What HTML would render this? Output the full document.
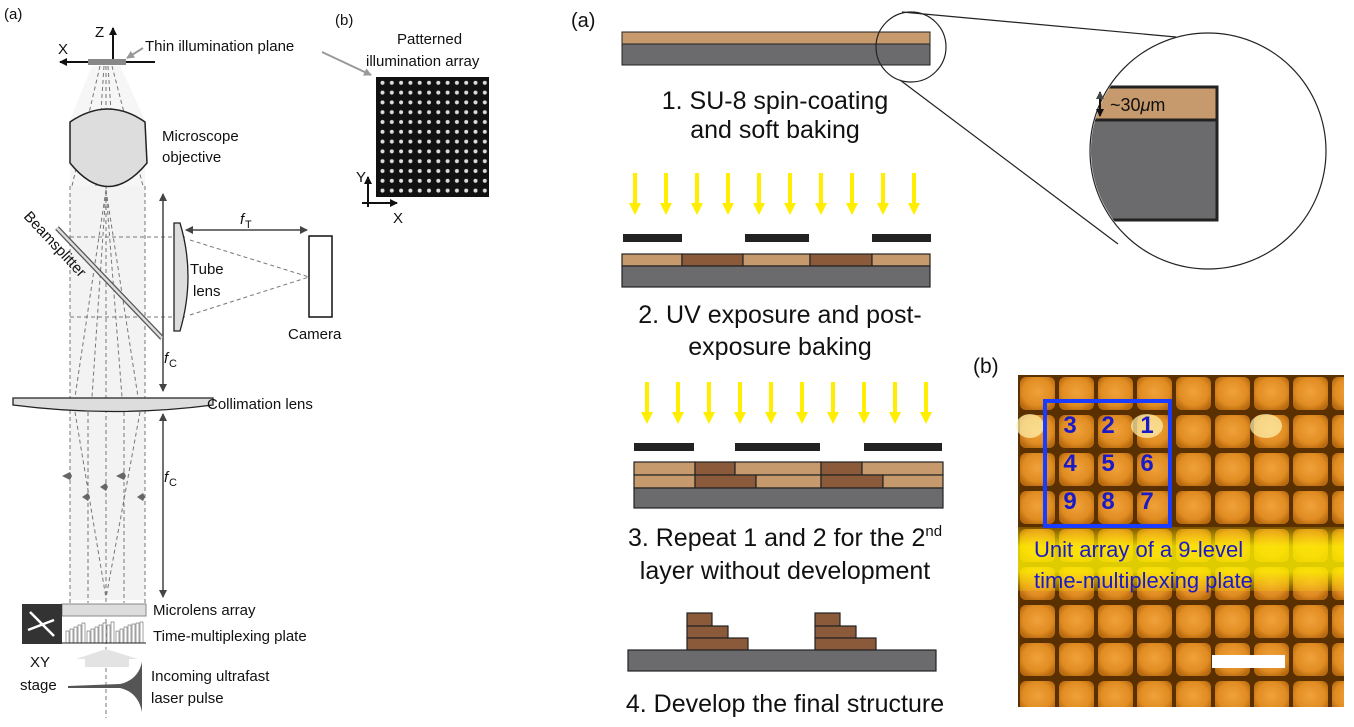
<!DOCTYPE html>
<html><head><meta charset="utf-8"><style>
html,body{margin:0;padding:0;background:#fff}
svg{display:block}
text{font-family:"Liberation Sans",Arial,sans-serif;fill:#111}
</style></head><body>
<svg width="1354" height="727" viewBox="0 0 1354 727" xmlns="http://www.w3.org/2000/svg">
<defs>
<marker id="ah" markerWidth="8" markerHeight="8" refX="7" refY="4" orient="auto" markerUnits="userSpaceOnUse"><path d="M0,0 L8,4 L0,8 Z" fill="#111"/></marker>
<marker id="ahg" markerWidth="8" markerHeight="8" refX="7" refY="4" orient="auto" markerUnits="userSpaceOnUse"><path d="M0,0 L8,4 L0,8 Z" fill="#999"/></marker>
<marker id="ahd" markerWidth="8" markerHeight="8" refX="7" refY="4" orient="auto" markerUnits="userSpaceOnUse"><path d="M0,0 L8,4 L0,8 Z" fill="#444"/></marker>
<marker id="ahs" markerWidth="8" markerHeight="8" refX="1" refY="4" orient="auto" markerUnits="userSpaceOnUse"><path d="M8,0 L0,4 L8,8 Z" fill="#444"/></marker>
<radialGradient id="tg" cx="0.5" cy="0.45" r="0.6"><stop offset="0" stop-color="#f0a23a"/><stop offset="0.7" stop-color="#e08c22"/><stop offset="1" stop-color="#b86a10"/></radialGradient>
<pattern id="tiles" x="1018" y="375" width="39" height="38" patternUnits="userSpaceOnUse">
<rect width="39" height="38" fill="#5a3000"/>
<rect x="2" y="2" width="35" height="33" rx="6" fill="url(#tg)"/>
</pattern>
<pattern id="dots" x="378" y="78" width="9.3" height="9.8" patternUnits="userSpaceOnUse">
<rect width="9.3" height="9.8" fill="#111"/>
<circle cx="4.5" cy="4.8" r="2" fill="#ddd"/>
</pattern>
<linearGradient id="yb" x1="0" y1="0" x2="0" y2="1"><stop offset="0" stop-color="#ffe000" stop-opacity="0.2"/><stop offset="0.3" stop-color="#fff200" stop-opacity="0.8"/><stop offset="0.7" stop-color="#fff200" stop-opacity="0.8"/><stop offset="1" stop-color="#ffe000" stop-opacity="0.2"/></linearGradient>
</defs>

<text x="4" y="19" font-size="15">(a)</text>
<polygon points="70,185 145,185 145,600 70,600" fill="#f3f3f3"/>
<polygon points="92,66 120,66 145,120 145,186 70,186 70,120" fill="#f6f6f6"/>
<line x1="113" y1="62" x2="113" y2="28" stroke="#111" stroke-width="2" marker-end="url(#ah)"/>
<line x1="155" y1="62" x2="60" y2="62" stroke="#111" stroke-width="2" marker-end="url(#ah)"/>
<text x="95" y="37" font-size="15">Z</text>
<text x="58" y="54" font-size="15">X</text>
<rect x="88" y="59" width="38" height="6" fill="#888"/>
<text x="145" y="51" font-size="15">Thin illumination plane</text>
<line x1="143" y1="48" x2="127" y2="58" stroke="#999" stroke-width="2" marker-end="url(#ahg)"/>
<line x1="322" y1="52" x2="371" y2="75" stroke="#999" stroke-width="2" marker-end="url(#ahg)"/>
<g stroke="#777" stroke-width="1" stroke-dasharray="4,3" fill="none">
<line x1="106" y1="66" x2="106" y2="718"/>
<line x1="100" y1="66" x2="72" y2="186"/><line x1="112" y1="66" x2="143" y2="186"/>
<line x1="104" y1="66" x2="96" y2="186"/><line x1="108" y1="66" x2="116" y2="186"/>
<line x1="70" y1="186" x2="70" y2="603"/><line x1="145" y1="186" x2="145" y2="603"/>
<line x1="106" y1="190" x2="75" y2="397"/><line x1="106" y1="190" x2="138" y2="397"/>
<line x1="106" y1="190" x2="92" y2="397"/><line x1="106" y1="190" x2="122" y2="397"/>
<line x1="88" y1="412" x2="88" y2="603"/><line x1="124" y1="412" x2="124" y2="603"/>
<line x1="75" y1="412" x2="106" y2="598"/><line x1="140" y1="412" x2="106" y2="598"/>
<line x1="70" y1="237" x2="185" y2="237"/><line x1="70" y1="317" x2="185" y2="317"/>
<line x1="190" y1="240" x2="309" y2="277"/><line x1="190" y1="315" x2="309" y2="277"/>
</g>
<path d="M70,122 Q108,96 145,122 L147,163 Q108,210 70,163 Z" fill="#ddd" stroke="#222" stroke-width="1.5"/>
<text x="162" y="141" font-size="15">Microscope</text>
<text x="162" y="162" font-size="15">objective</text>
<line x1="163" y1="194" x2="163" y2="391" stroke="#444" stroke-width="1.5" marker-start="url(#ahs)" marker-end="url(#ahd)"/>
<line x1="163" y1="414" x2="163" y2="597" stroke="#444" stroke-width="1.5" marker-start="url(#ahs)" marker-end="url(#ahd)"/>
<text x="164" y="363" font-size="15" font-style="italic">f</text><text x="169" y="367" font-size="11">C</text>
<text x="164" y="482" font-size="15" font-style="italic">f</text><text x="169" y="486" font-size="11">C</text>
<line x1="57" y1="228" x2="162" y2="338" stroke="#555" stroke-width="5"/>
<line x1="57" y1="228" x2="162" y2="338" stroke="#ddd" stroke-width="2.5"/>
<text x="0" y="0" font-size="15" transform="translate(23,217) rotate(47)">Beamsplitter</text>
<path d="M174,223 L180,223 Q196,276 180,331 L174,331 Z" fill="#ddd" stroke="#222" stroke-width="1.3"/>
<text x="190" y="274" font-size="15">Tube</text>
<text x="193" y="296" font-size="15">lens</text>
<line x1="186" y1="230" x2="307" y2="230" stroke="#444" stroke-width="1.5" marker-start="url(#ahs)" marker-end="url(#ahd)"/>
<text x="240" y="224" font-size="15" font-style="italic">f</text><text x="245" y="228" font-size="11">T</text>
<rect x="309" y="236" width="23" height="81" fill="#fff" stroke="#111" stroke-width="1.5"/>
<text x="288" y="339" font-size="15">Camera</text>
<path d="M13,398 L213,398 L213,405 Q113,418 13,405 Z" fill="#ddd" stroke="#222" stroke-width="1.3"/>
<text x="207" y="409" font-size="15">Collimation lens</text>
<g fill="#666">
<path d="M62,476 L70,472 L72,476 L70,480 Z"/><path d="M116,476 L124,472 L126,476 L124,480 Z"/>
<path d="M82,497 L88,493 L90,497 L88,501 Z"/><path d="M100,487 L106,483 L108,487 L106,491 Z"/><path d="M137,497 L143,493 L145,497 L143,501 Z"/>
</g>
<rect x="62" y="604" width="84" height="12" fill="#ddd" stroke="#888"/>
<text x="153" y="615" font-size="15">Microlens array</text>
<rect x="22" y="604" width="40" height="40" fill="#333"/>
<g stroke="#fff" stroke-width="2.5" fill="none"><line x1="30" y1="612" x2="54" y2="636"/><line x1="28" y1="630" x2="54" y2="620"/></g>
<g fill="#fff" stroke="#444" stroke-width="0.5">
<rect x="66" y="631" width="3" height="12"/><rect x="70" y="629" width="3" height="14"/><rect x="74" y="627" width="3" height="16"/><rect x="78" y="625" width="3" height="18"/><rect x="82" y="623" width="3" height="20"/>
<rect x="87" y="631" width="3" height="12"/><rect x="91" y="629" width="3" height="14"/><rect x="95" y="627" width="3" height="16"/><rect x="99" y="625" width="3" height="18"/><rect x="103" y="623" width="3" height="20"/><rect x="107" y="625" width="3" height="18"/><rect x="111" y="622" width="3" height="21"/>
<rect x="116" y="631" width="3" height="12"/><rect x="120" y="629" width="3" height="14"/><rect x="124" y="627" width="3" height="16"/><rect x="128" y="625" width="3" height="18"/><rect x="132" y="624" width="3" height="19"/><rect x="136" y="623" width="3" height="20"/><rect x="140" y="622" width="3" height="21"/>
</g>
<line x1="62" y1="643" x2="146" y2="643" stroke="#222"/>
<text x="153" y="641" font-size="15">Time-multiplexing plate</text>
<polygon points="85,667 85,659 76,659 106,649 138,659 129,659 129,667" fill="#e3e3e3"/>
<text x="30" y="667" font-size="15">XY</text>
<text x="20" y="690" font-size="15">stage</text>
<path d="M68,686 L120,684 Q138,680 142,662 L142,712 Q138,692 120,688 L68,688 Z" fill="#555"/>
<text x="151" y="681" font-size="15">Incoming ultrafast</text>
<text x="151" y="703" font-size="15">laser pulse</text>

<text x="335" y="25" font-size="15">(b)</text>
<text x="397" y="44" font-size="15">Patterned</text>
<text x="366" y="66" font-size="15">illumination array</text>
<rect x="376" y="77" width="113" height="120" fill="url(#dots)"/>
<line x1="368" y1="207" x2="368" y2="177" stroke="#111" stroke-width="2" marker-end="url(#ah)"/>
<line x1="362" y1="203" x2="397" y2="203" stroke="#111" stroke-width="2" marker-end="url(#ah)"/>
<text x="356" y="182" font-size="15">Y</text>
<text x="393" y="223" font-size="15">X</text>

<text x="571" y="27" font-size="20">(a)</text>
<rect x="622" y="32" width="308" height="12" fill="#c69a6d" stroke="#222"/>
<rect x="622" y="44" width="308" height="21" fill="#6b6b6e" stroke="#222"/>
<circle cx="911" cy="47" r="35" fill="none" stroke="#222" stroke-width="1.2"/>
<circle cx="1208" cy="151" r="118" fill="#fff" stroke="#222" stroke-width="1.2"/>
<line x1="902" y1="12" x2="1176" y2="37" stroke="#222" stroke-width="1.2"/>
<line x1="900" y1="80" x2="1118" y2="244" stroke="#222" stroke-width="1.2"/>
<clipPath id="cc"><circle cx="1208" cy="151" r="117"/></clipPath>
<g clip-path="url(#cc)">
<rect x="1060" y="87" width="157" height="66" fill="#c69a6d" stroke="#222" stroke-width="3"/>
<rect x="1060" y="120" width="157" height="100" fill="#6b6b6e" stroke="#222" stroke-width="3"/>
</g>
<line x1="1100" y1="92" x2="1100" y2="116" stroke="#111" stroke-width="2" marker-start="url(#ahs)" marker-end="url(#ah)"/>
<text x="1110" y="111" font-size="18">~30<tspan font-style="italic">μ</tspan>m</text>
<text x="775" y="109" font-size="25" text-anchor="middle">1. SU-8 spin-coating</text>
<text x="775" y="138" font-size="25" text-anchor="middle">and soft baking</text>
<g fill="#ffee00">
<path id="ya" d="M-2,0 L2,0 L2,30 L6,30 L0,42 L-6,30 L-2,30 Z" transform="translate(635,173)"/>
</g>
<g fill="#ffee00">
<use href="#ya" x="31"/><use href="#ya" x="62"/><use href="#ya" x="93"/><use href="#ya" x="124"/><use href="#ya" x="155"/><use href="#ya" x="186"/><use href="#ya" x="217"/><use href="#ya" x="248"/><use href="#ya" x="279"/>
</g>
<g fill="#222"><rect x="623" y="234" width="59" height="8"/><rect x="745" y="234" width="64" height="8"/><rect x="872" y="234" width="59" height="8"/></g>
<g stroke="#222" stroke-width="1.2">
<rect x="622" y="254" width="60" height="12" fill="#c69a6d"/><rect x="682" y="254" width="61" height="12" fill="#8b5a3a"/><rect x="743" y="254" width="67" height="12" fill="#c69a6d"/><rect x="810" y="254" width="62" height="12" fill="#8b5a3a"/><rect x="872" y="254" width="58" height="12" fill="#c69a6d"/>
<rect x="622" y="266" width="308" height="21" fill="#6b6b6e"/>
</g>
<text x="780" y="323" font-size="25" text-anchor="middle">2. UV exposure and post-</text>
<text x="780" y="355" font-size="25" text-anchor="middle">exposure baking</text>
<g fill="#ffee00">
<use href="#ya" x="12" y="209"/><use href="#ya" x="43" y="209"/><use href="#ya" x="74" y="209"/><use href="#ya" x="105" y="209"/><use href="#ya" x="136" y="209"/><use href="#ya" x="167" y="209"/><use href="#ya" x="198" y="209"/><use href="#ya" x="229" y="209"/><use href="#ya" x="260" y="209"/><use href="#ya" x="291" y="209"/>
</g>
<g fill="#222"><rect x="634" y="443" width="60" height="8"/><rect x="735" y="443" width="85" height="8"/><rect x="864" y="443" width="78" height="8"/></g>
<g stroke="#222" stroke-width="1.2">
<rect x="634" y="462" width="61" height="13" fill="#c69a6d"/><rect x="695" y="462" width="40" height="13" fill="#8b5a3a"/><rect x="735" y="462" width="86" height="13" fill="#c69a6d"/><rect x="821" y="462" width="41" height="13" fill="#8b5a3a"/><rect x="862" y="462" width="81" height="13" fill="#c69a6d"/>
<rect x="634" y="475" width="61" height="13" fill="#c69a6d"/><rect x="695" y="475" width="61" height="13" fill="#8b5a3a"/><rect x="756" y="475" width="65" height="13" fill="#c69a6d"/><rect x="821" y="475" width="62" height="13" fill="#8b5a3a"/><rect x="883" y="475" width="60" height="13" fill="#c69a6d"/>
<rect x="634" y="488" width="309" height="20" fill="#6b6b6e"/>
</g>
<text x="785" y="546" font-size="25" text-anchor="middle">3. Repeat 1 and 2 for the 2<tspan font-size="15" dy="-10">nd</tspan></text>
<text x="785" y="579" font-size="25" text-anchor="middle">layer without development</text>
<g stroke="#222" stroke-width="1.2" fill="#8b5a3a">
<rect x="687" y="613" width="25" height="13"/><rect x="687" y="626" width="41" height="12"/><rect x="687" y="638" width="61" height="12"/>
<rect x="815" y="613" width="25" height="13"/><rect x="815" y="626" width="41" height="12"/><rect x="815" y="638" width="61" height="12"/>
<rect x="628" y="650" width="308" height="21" fill="#6b6b6e"/>
</g>
<text x="785" y="712" font-size="25" text-anchor="middle">4. Develop the final structure</text>

<text x="973" y="373" font-size="21">(b)</text>
<rect x="1018" y="375" width="326" height="332" fill="url(#tiles)"/>
<rect x="1018" y="527" width="326" height="64" fill="url(#yb)"/>
<ellipse cx="1030" cy="426" rx="14" ry="12" fill="#fff3b0" opacity="0.7"/>
<ellipse cx="1147" cy="426" rx="16" ry="12" fill="#fff3b0" opacity="0.7"/>
<ellipse cx="1266" cy="426" rx="16" ry="12" fill="#fff3b0" opacity="0.7"/>
<rect x="1045" y="401" width="125" height="125" fill="none" stroke="#1a3cff" stroke-width="4"/>
<g font-size="24" font-weight="bold" text-anchor="middle">
<text x="1070" y="433" style="fill:#1a1ac8">3</text><text x="1108" y="433" style="fill:#1a1ac8">2</text><text x="1147" y="433" style="fill:#1a1ac8">1</text>
<text x="1070" y="471" style="fill:#1a1ac8">4</text><text x="1108" y="471" style="fill:#1a1ac8">5</text><text x="1147" y="471" style="fill:#1a1ac8">6</text>
<text x="1070" y="509" style="fill:#1a1ac8">9</text><text x="1108" y="509" style="fill:#1a1ac8">8</text><text x="1147" y="509" style="fill:#1a1ac8">7</text>
</g>
<text x="1034" y="557" font-size="22" style="fill:#1a1ac8">Unit array of a 9-level</text>
<text x="1034" y="588" font-size="22" style="fill:#1a1ac8">time-multiplexing plate</text>
<rect x="1212" y="655" width="73" height="13" fill="#fff"/>
</svg>
</body></html>
